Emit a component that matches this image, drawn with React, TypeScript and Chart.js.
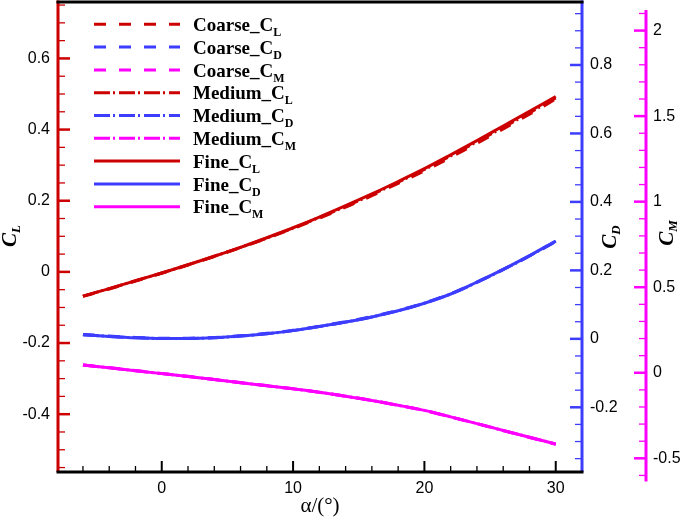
import React, { useEffect, useRef } from 'react';
import { Chart, registerables } from 'chart.js';

Chart.register(...registerables);

// ---- data ----
const alpha = [-6, -4, -2, 0, 2, 4, 6, 8, 10, 12, 14, 16, 18, 20, 22, 24, 26, 28, 30];

const coarseCL = [-0.069, -0.048, -0.026, -0.004, 0.019, 0.043, 0.068, 0.094, 0.122, 0.151, 0.182, 0.214, 0.249, 0.284, 0.322, 0.361, 0.402, 0.443, 0.486];
const coarseCD = [0.013, 0.008, 0.004, 0.002, 0.002, 0.004, 0.009, 0.016, 0.025, 0.037, 0.050, 0.065, 0.083, 0.105, 0.132, 0.166, 0.203, 0.242, 0.284];
const coarseCM = [0.046, 0.030, 0.013, -0.004, -0.021, -0.039, -0.057, -0.075, -0.094, -0.114, -0.137, -0.162, -0.190, -0.221, -0.259, -0.298, -0.338, -0.378, -0.418];

const mediumCL = [-0.068, -0.047, -0.025, -0.003, 0.020, 0.044, 0.069, 0.095, 0.123, 0.153, 0.184, 0.217, 0.252, 0.288, 0.326, 0.366, 0.406, 0.447, 0.489];
const mediumCD = [0.012, 0.007, 0.003, 0.001, 0.001, 0.003, 0.008, 0.015, 0.024, 0.036, 0.049, 0.064, 0.082, 0.104, 0.131, 0.165, 0.202, 0.242, 0.285];
const mediumCM = [0.045, 0.029, 0.012, -0.005, -0.022, -0.040, -0.058, -0.076, -0.094, -0.114, -0.137, -0.162, -0.190, -0.220, -0.258, -0.297, -0.337, -0.377, -0.417];

const fineCL = [-0.068, -0.047, -0.025, -0.003, 0.020, 0.044, 0.069, 0.096, 0.124, 0.154, 0.186, 0.219, 0.254, 0.290, 0.329, 0.369, 0.410, 0.451, 0.493];
const fineCD = [0.012, 0.007, 0.003, 0.001, 0.001, 0.003, 0.008, 0.015, 0.024, 0.036, 0.049, 0.064, 0.082, 0.104, 0.131, 0.166, 0.203, 0.243, 0.286];
const fineCM = [0.045, 0.029, 0.012, -0.005, -0.022, -0.040, -0.058, -0.076, -0.094, -0.114, -0.137, -0.162, -0.190, -0.220, -0.258, -0.297, -0.337, -0.377, -0.416];

const xTicks = [0, 10, 20, 30];
const clTicks = [-0.4, -0.2, 0, 0.2, 0.4, 0.6];
const cdTicks = [-0.2, 0, 0.2, 0.4, 0.6, 0.8];
const cmTicks = [-0.5, 0, 0.5, 1, 1.5, 2];

const xRange = [-7.9, 32];
const clRange = [-0.5625, 0.7586];
const cdRange = [-0.389, 0.984];
const cmRange = [-0.58, 2.167];
const cmAxisExtent = [-0.636, 2.12];

const legendNames = ['Coarse_C', 'Coarse_C', 'Coarse_C', 'Medium_C', 'Medium_C', 'Medium_C', 'Fine_C', 'Fine_C', 'Fine_C'];
const legendSubs = ['L', 'D', 'M', 'L', 'D', 'M', 'L', 'D', 'M'];

// ---- styles ----
const RED = '#cc0000';
const BLUE = '#3d3dff';
const MAG = '#ff00ff';
const DASH_COARSE = [12, 13];
const DASH_MEDIUM = [16, 3, 2, 4];

const SERIF = '"Liberation Serif", "Times New Roman", serif';
const SANS = '"Liberation Sans", Arial, sans-serif';

function drawSub(ctx: CanvasRenderingContext2D, x: number, y: number, main: string, sub: string, mainFont: string, subFont: string, drop: number) {
  ctx.font = mainFont;
  ctx.fillText(main, x, y);
  const w = ctx.measureText(main).width;
  ctx.font = subFont;
  ctx.fillText(sub, x + w, y + drop);
}
function subWidth(ctx: CanvasRenderingContext2D, main: string, sub: string, mainFont: string, subFont: string) {
  ctx.font = mainFont;
  const w1 = ctx.measureText(main).width;
  ctx.font = subFont;
  return w1 + ctx.measureText(sub).width;
}

const framePlugin = {
  id: 'frame',
  afterDraw(chart: any) {
    const { ctx, chartArea: ca, scales } = chart;
    const sx = scales.x, sl = scales.y, sd = scales.yD, sm = scales.yM;
    ctx.save();
    ctx.lineCap = 'butt';

    const line = (x1: number, y1: number, x2: number, y2: number, color: string, w: number) => {
      ctx.strokeStyle = color;
      ctx.lineWidth = w;
      ctx.beginPath();
      ctx.moveTo(x1, y1);
      ctx.lineTo(x2, y2);
      ctx.stroke();
    };
    const near = (v: number, list: number[]) => list.some((t) => Math.abs(t - v) < 1e-6);

    // x ticks (inward, upward)
    for (let k = -3; k <= 15; k++) {
      const v = k * 2;
      if (v < xRange[0] || v > xRange[1]) continue;
      const px = sx.getPixelForValue(v);
      const major = near(v, xTicks);
      line(px, ca.bottom, px, ca.bottom - (major ? 11 : 6), '#000', major ? 2 : 1.3);
    }
    // CL ticks
    for (let k = -12; k <= 15; k++) {
      const v = k * 0.05;
      if (v < clRange[0] || v > clRange[1]) continue;
      const py = sl.getPixelForValue(v);
      const major = near(v, clTicks);
      line(ca.left, py, ca.left + (major ? 12 : 7), py, RED, major ? 2.5 : 1.3);
    }
    // CD ticks
    for (let k = -8; k <= 20; k++) {
      const v = k * 0.05;
      if (v < cdRange[0] || v > cdRange[1]) continue;
      const py = sd.getPixelForValue(v);
      const major = near(v, cdTicks);
      line(ca.right, py, ca.right - (major ? 12 : 7), py, BLUE, major ? 2.5 : 1.3);
    }
    // CM ticks
    const mx = sm.left;
    for (let k = -6; k <= 21; k++) {
      const v = k * 0.1;
      if (v < cmAxisExtent[0] || v > cmAxisExtent[1]) continue;
      const py = sm.getPixelForValue(v);
      const major = near(v, cmTicks);
      line(mx, py, mx - (major ? 12 : 7), py, MAG, major ? 2.5 : 1.3);
    }

    // axis lines
    line(ca.left, ca.top - 1.5, ca.left, ca.bottom, RED, 3);
    line(ca.right, ca.top - 1.5, ca.right, ca.bottom, BLUE, 3);
    line(mx, sm.getPixelForValue(cmAxisExtent[1]), mx, sm.getPixelForValue(cmAxisExtent[0]), MAG, 3);
    line(ca.left - 1.5, ca.top, ca.right + 1.5, ca.top, '#000', 3);
    line(ca.left - 1.5, ca.bottom, ca.right + 1.5, ca.bottom, '#000', 3);

    // axis titles (rotated)
    ctx.fillStyle = '#000';
    ctx.textBaseline = 'alphabetic';
    ctx.textAlign = 'left';
    const tMain = `italic bold 21px ${SERIF}`;
    const tSub = `italic bold 13px ${SERIF}`;
    const titles: [number, number, string][] = [
      [sl.left + 16, 236, 'L'],
      [sd.left + 34, 237, 'D'],
      [sm.left + 27, 233, 'M'],
    ];
    for (const [bx, cy, s] of titles) {
      ctx.save();
      ctx.translate(bx, cy);
      ctx.rotate(-Math.PI / 2);
      const w = subWidth(ctx, 'C', s, tMain, tSub);
      drawSub(ctx, -w / 2, 0, 'C', s, tMain, tSub, 4);
      ctx.restore();
    }

    // legend
    const ds = chart.data.datasets;
    const lx1 = ca.left + 36, lx2 = ca.left + 122, tx = ca.left + 135;
    const lMain = `bold 19px ${SERIF}`;
    const lSub = `bold 12px ${SERIF}`;
    for (let i = 0; i < ds.length; i++) {
      const y = ca.top + 22.3 + i * 22.8;
      ctx.save();
      ctx.setLineDash(ds[i].borderDash || []);
      line(lx1, y, lx2, y, ds[i].borderColor, 3);
      ctx.restore();
      ctx.fillStyle = '#000';
      drawSub(ctx, tx, y + 6.7, legendNames[i], legendSubs[i], lMain, lSub, 5);
    }
    ctx.restore();
  },
};

function series(label: string, vals: number[], color: string, dash: number[], axis: string) {
  return {
    label,
    data: alpha.map((a, i) => ({ x: a, y: vals[i] })),
    borderColor: color,
    backgroundColor: color,
    borderWidth: 3,
    borderDash: dash,
    pointRadius: 0,
    cubicInterpolationMode: 'monotone' as const,
    fill: false,
    yAxisID: axis,
  };
}

const fmt = (v: any) => String(Math.round(Number(v) * 1000) / 1000);
const noPad = (s: any) => { s.paddingTop = 0; s.paddingBottom = 0; s.paddingLeft = 0; s.paddingRight = 0; };

export default function App() {
  const ref = useRef<HTMLCanvasElement | null>(null);
  useEffect(() => {
    if (!ref.current) return;
    const chart = new Chart(ref.current, {
      type: 'line',
      data: {
        datasets: [
          series('Coarse_CL', coarseCL, RED, DASH_COARSE, 'y'),
          series('Coarse_CD', coarseCD, BLUE, DASH_COARSE, 'yD'),
          series('Coarse_CM', coarseCM, MAG, DASH_COARSE, 'yM'),
          series('Medium_CL', mediumCL, RED, DASH_MEDIUM, 'y'),
          series('Medium_CD', mediumCD, BLUE, DASH_MEDIUM, 'yD'),
          series('Medium_CM', mediumCM, MAG, DASH_MEDIUM, 'yM'),
          series('Fine_CL', fineCL, RED, [], 'y'),
          series('Fine_CD', fineCD, BLUE, [], 'yD'),
          series('Fine_CM', fineCM, MAG, [], 'yM'),
        ],
      },
      options: {
        animation: false,
        responsive: true,
        maintainAspectRatio: false,
        layout: { padding: { top: 2, left: 0, right: 0, bottom: 0 } },
        plugins: { legend: { display: false }, tooltip: { enabled: false } },
        scales: {
          x: {
            type: 'linear',
            position: 'bottom',
            min: xRange[0],
            max: xRange[1],
            afterBuildTicks: (s: any) => { s.ticks = xTicks.map((v) => ({ value: v })); },
            afterFit: (s: any) => { s.height = 47; noPad(s); },
            grid: { display: false, drawTicks: false },
            border: { display: false },
            ticks: { color: '#000', font: { family: SANS, size: 16 }, padding: 7, maxRotation: 0, autoSkip: false, callback: fmt },
            title: { display: true, text: 'α/(°)', color: '#000', font: { family: SERIF, size: 21 }, padding: { top: 0, bottom: 0 } },
          },
          y: {
            type: 'linear',
            position: 'left',
            min: clRange[0],
            max: clRange[1],
            afterBuildTicks: (s: any) => { s.ticks = clTicks.map((v) => ({ value: v })); },
            afterFit: (s: any) => { s.width = 58; noPad(s); },
            grid: { display: false, drawTicks: false },
            border: { display: false },
            ticks: { color: '#000', font: { family: SANS, size: 16 }, padding: 8, autoSkip: false, callback: fmt },
          },
          yD: {
            type: 'linear',
            position: 'right',
            min: cdRange[0],
            max: cdRange[1],
            afterBuildTicks: (s: any) => { s.ticks = cdTicks.map((v) => ({ value: v })); },
            afterFit: (s: any) => { s.width = 64; noPad(s); },
            grid: { display: false, drawTicks: false },
            border: { display: false },
            ticks: { color: '#000', font: { family: SANS, size: 16 }, padding: 8, autoSkip: false, callback: fmt },
          },
          yM: {
            type: 'linear',
            position: 'right',
            min: cmRange[0],
            max: cmRange[1],
            afterBuildTicks: (s: any) => { s.ticks = cmTicks.map((v) => ({ value: v })); },
            afterFit: (s: any) => { s.width = 39; noPad(s); },
            grid: { display: false, drawTicks: false },
            border: { display: false },
            ticks: { color: '#000', font: { family: SANS, size: 16 }, padding: 7, autoSkip: false, callback: fmt },
          },
        },
      },
      plugins: [framePlugin],
    } as any);
    return () => chart.destroy();
  }, []);
  return (
    <div style={{ position: 'absolute', left: 0, top: 0, width: 685, height: 519, background: '#fff' }}>
      <canvas ref={ref} />
    </div>
  );
}
